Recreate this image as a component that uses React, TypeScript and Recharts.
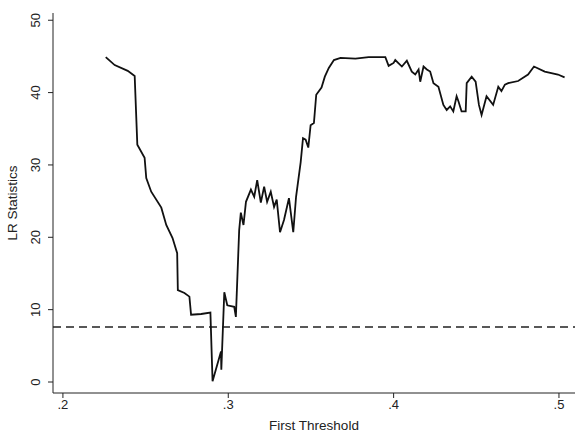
import React from "react";
import { LineChart, Line, XAxis, YAxis, ReferenceLine, Label } from "recharts";

// threshold grid and LR statistic
const thresholds = [
  0.2259, 0.2313, 0.2392, 0.2434, 0.245, 0.2494, 0.2504, 0.2534, 0.2595, 0.2625,
  0.2663, 0.2691, 0.2695, 0.2735, 0.2765, 0.2775, 0.2836, 0.2892, 0.2905, 0.2956,
  0.2958, 0.2976, 0.2994, 0.3036, 0.3046, 0.3066, 0.3076, 0.3092, 0.3107, 0.3137,
  0.3157, 0.3175, 0.3197, 0.3217, 0.3235, 0.3257, 0.3277, 0.3293, 0.3313, 0.3337,
  0.3367, 0.3393, 0.341, 0.3438, 0.3452, 0.3468, 0.3484, 0.3498, 0.3518, 0.3532,
  0.3564, 0.3584, 0.3608, 0.3639, 0.3679, 0.3769, 0.3849, 0.395, 0.397, 0.4,
  0.401, 0.405, 0.408, 0.411, 0.4131, 0.4151, 0.4161, 0.4181, 0.4201, 0.4221,
  0.4241, 0.4271, 0.4301, 0.4321, 0.4342, 0.4361, 0.4381, 0.4392, 0.4411, 0.4436,
  0.4442, 0.4472, 0.4496, 0.4516, 0.4532, 0.4562, 0.4602, 0.4633, 0.4652, 0.4673,
  0.4693, 0.4753, 0.4813, 0.4849, 0.4914, 0.4994, 0.5034,
];
const lrStats = [
  44.9, 43.8, 43.0, 42.3, 32.8, 31.0, 28.2, 26.3, 24.1, 21.7,
  19.9, 17.8, 12.7, 12.3, 11.8, 9.3, 9.4, 9.6, 0.1, 4.2,
  1.7, 12.4, 10.6, 10.4, 9.0, 21.0, 23.4, 21.7, 24.9, 26.6,
  25.6, 27.9, 24.8, 27.0, 24.9, 26.3, 24.2, 25.2, 20.7, 22.4,
  25.4, 20.7, 25.6, 30.4, 33.7, 33.5, 32.4, 35.5, 35.8, 39.7,
  40.7, 42.2, 43.4, 44.5, 44.8, 44.7, 44.9, 44.9, 43.7, 44.1,
  44.5, 43.6, 44.4, 42.9, 42.5, 43.2, 41.5, 43.6, 43.2, 42.9,
  41.3, 40.8, 38.3, 37.6, 38.1, 37.4, 39.5, 38.8, 37.4, 37.4,
  41.3, 42.2, 41.5, 38.3, 36.9, 39.5, 38.3, 40.8, 40.2, 41.1,
  41.3, 41.6, 42.5, 43.6, 42.9, 42.5, 42.1,
];
const xTicks = [0.2, 0.3, 0.4, 0.5];
const yTicks = [0, 10, 20, 30, 40, 50];
const criticalValue = 7.6;

const data = thresholds.map((t, i) => ({ t, lr: lrStats[i] }));

const font = "'Liberation Sans', Arial, sans-serif";
const ink = "#222";

const fmtX = (v: number) => String(v).replace(/^0/, "");

const YTick = (props: any) => {
  const { x, y, payload } = props;
  return (
    <text
      x={x - 6}
      y={y}
      transform={`rotate(-90, ${x - 6}, ${y})`}
      textAnchor="middle"
      fontSize={13}
      fontFamily={font}
      fill={ink}
    >
      {payload.value}
    </text>
  );
};

export default function App() {
  return (
    <div style={{ position: "absolute", left: 0, top: 0, background: "#fff" }}>
      <LineChart
        width={580}
        height={433}
        data={data}
        margin={{ top: 13, right: 5, bottom: 0, left: 0 }}
      >
        <XAxis
          dataKey="t"
          type="number"
          domain={[0.194, 0.5097]}
          ticks={xTicks}
          tickFormatter={fmtX}
          height={40}
          stroke={ink}
          tickSize={5}
          tick={{ fontSize: 13, fontFamily: font, fill: ink }}
          allowDataOverflow
        >
          <Label
            value="First Threshold"
            position="insideBottom"
            offset={3}
            style={{ fontSize: 13.5, fontFamily: font, fill: ink }}
          />
        </XAxis>
        <YAxis
          type="number"
          domain={[-1.52, 51]}
          ticks={yTicks}
          width={53}
          stroke={ink}
          tickSize={5}
          tick={<YTick />}
          allowDataOverflow
        >
          <Label
            value="LR Statistics"
            angle={-90}
            position="insideLeft"
            offset={12}
            style={{ fontSize: 13.5, fontFamily: font, fill: ink, textAnchor: "middle" }}
          />
        </YAxis>
        <ReferenceLine
          y={criticalValue}
          stroke={ink}
          strokeWidth={1.4}
          strokeDasharray="8 5"
        />
        <Line
          dataKey="lr"
          type="linear"
          stroke="#111"
          strokeWidth={1.8}
          dot={false}
          isAnimationActive={false}
        />
      </LineChart>
    </div>
  );
}
